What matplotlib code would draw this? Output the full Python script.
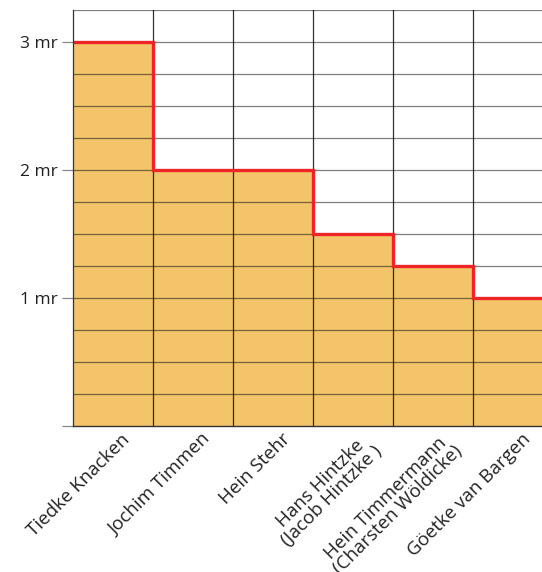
# libraries
import matplotlib.pyplot as plt
import numpy as np

plt.rcParams['font.family'] = ['Open Sans', 'DejaVu Sans']

# data
names = ['Tiedke Knacken', 'Jochim Timmen', 'Hein Stehr',
         'Hans Hintzke\n(Jacob Hintzke )', 'Hein Timmermann\n(Charsten Wöldicke)',
         'Göetke van Bargen']
values = [3, 2, 2, 1.5, 1.25, 1]
ytick_values = [0, 1, 2, 3]
ytick_labels = ['', '1 mr', '2 mr', '3 mr']

# figure
fig = plt.figure(figsize=(5.42, 5.72), dpi=100)
ax = fig.add_axes([73 / 542, 146 / 572, 469 / 542, 416 / 572])

edges = np.arange(len(values) + 1)
xmax = 469 / 80
ymax = 3.25

# orange fill
ax.bar(edges[:-1], values, width=1, align='edge', color='#F3C46A', zorder=1)

# grid
for y in np.arange(0.25, ymax + 0.01, 0.25):
    ax.axhline(y, color='black', alpha=0.5, lw=0.9, zorder=2)
for x in edges[1:]:
    ax.axvline(x, color='black', alpha=0.8, lw=0.9, zorder=2)

# red step outline
ax.stairs(values, edges, color='#EE2428', lw=2.4, zorder=3, baseline=None)

ax.set_xlim(0, xmax)
ax.set_ylim(0, ymax)

ax.set_yticks(ytick_values)
ax.set_yticklabels(ytick_labels, fontsize=12.5, color='#222222')
ax.tick_params(axis='y', length=8, color='#888888', width=0.9, pad=3)

ax.set_xticks(edges[:-1] + 0.6)
ax.set_xticklabels(names, rotation=45, ha='right', rotation_mode='anchor',
                   fontsize=13.5, color='#222222', multialignment='center',
                   linespacing=0.92)
ax.tick_params(axis='x', length=0, pad=3)

for s in ['top', 'right']:
    ax.spines[s].set_visible(False)
ax.spines['left'].set_color('#333333')
ax.spines['left'].set_linewidth(0.9)
ax.spines['left'].set_zorder(4)
ax.spines['bottom'].set_color('#333333')
ax.spines['bottom'].set_linewidth(1.0)

fig.savefig('out.png', dpi=100)
